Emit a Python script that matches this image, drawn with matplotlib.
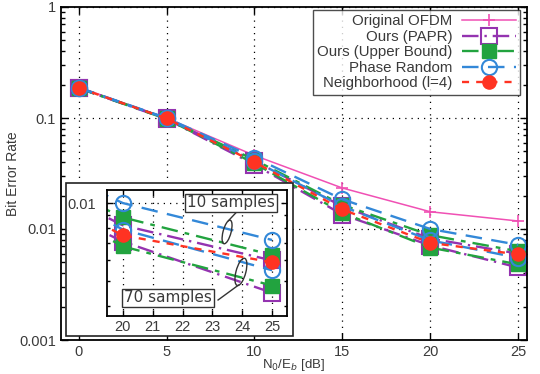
import matplotlib
matplotlib.use('Agg')
import matplotlib.pyplot as plt
from matplotlib.patches import Rectangle, Ellipse
from matplotlib.lines import Line2D
from matplotlib.ticker import FixedLocator, FixedFormatter, LogLocator, NullFormatter

plt.rcParams['font.family'] = ['Liberation Sans', 'DejaVu Sans']

# ---- data ----
snr = [0, 5, 10, 15, 20, 25]
ber_original = [0.190, 0.100, 0.046, 0.0234, 0.0143, 0.0118]
ber_papr_10 = [0.187, 0.099, 0.041, 0.0160, 0.0082, 0.0060]
ber_papr_70 = [0.186, 0.098, 0.038, 0.0135, 0.0071, 0.0045]
ber_ub_10 = [0.187, 0.099, 0.042, 0.0165, 0.0088, 0.0063]
ber_ub_70 = [0.186, 0.098, 0.039, 0.0140, 0.0068, 0.0048]
ber_pr_10 = [0.188, 0.100, 0.044, 0.0185, 0.0100, 0.0072]
ber_pr_70 = [0.187, 0.099, 0.041, 0.0160, 0.0079, 0.0055]
ber_nb = [0.187, 0.099, 0.040, 0.0150, 0.0075, 0.0059]

labels = ['Original OFDM', 'Ours (PAPR)', 'Ours (Upper Bound)', 'Phase Random', 'Neighborhood (l=4)']
main_yticks = [0.001, 0.01, 0.1, 1]
main_yticklabels = ['0.001', '0.01', '0.1', '1']
main_xticks = [0, 5, 10, 15, 20, 25]
inset_xticks = [20, 21, 22, 23, 24, 25]

# ---- styles ----
st_orig = dict(color='#f050b4', ls='-', lw=1.1, marker='+', ms=9, mew=1.2)
st_papr = dict(color='#9433b0', ls=(0, (7, 2.5, 1, 2.5)), lw=1.7, marker='s', ms=11,
               mfc='none', mew=1.5)
st_ub = dict(color='#22a33f', ls=(0, (7, 3, 2, 3)), lw=1.7, marker='s', ms=9.5, mew=1)
st_pr = dict(color='#3388d8', ls=(0, (7, 4)), lw=1.7, marker='o', ms=11, mfc='none', mew=1.5)
st_nb = dict(color='#ff3322', ls=(0, (3, 3)), lw=1.7, marker='o', ms=9.5, mew=1)

series = [
    (ber_original, st_orig, labels[0]),
    (ber_papr_10, st_papr, labels[1]),
    (ber_papr_70, st_papr, None),
    (ber_ub_10, st_ub, labels[2]),
    (ber_ub_70, st_ub, None),
    (ber_pr_10, st_pr, labels[3]),
    (ber_pr_70, st_pr, None),
    (ber_nb, st_nb, labels[4]),
]

W, H = 540, 374
fig = plt.figure(figsize=(W / 100, H / 100), dpi=100)
txtc = '#3a3a3a'

ax = fig.add_axes([61 / W, 34 / H, 466 / W, 333 / H])
handles = []
for ys, st, lab in series:
    ln, = ax.plot(snr, ys, **st)
    if lab:
        handles.append((ln, lab))

ax.set_yscale('log')
ax.set_ylim(0.001, 1)
ax.set_xlim(-1, 25.5)
ax.yaxis.set_major_locator(FixedLocator(main_yticks))
ax.yaxis.set_major_formatter(FixedFormatter(main_yticklabels))
ax.yaxis.set_minor_locator(LogLocator(base=10, subs=range(2, 10)))
ax.yaxis.set_minor_formatter(NullFormatter())
ax.set_xticks(main_xticks)
ax.tick_params(which='both', direction='in', top=True, right=True, labelsize=10.5,
               labelcolor=txtc, width=1)
ax.tick_params(which='major', length=5)
ax.tick_params(which='minor', length=3)
ax.grid(True, which='major', color='black', ls=(0, (1, 4)), lw=0.9)
for s in ax.spines.values():
    s.set_linewidth(1.3)
ax.set_ylabel('Bit Error Rate', fontsize=10, color=txtc)
ax.yaxis.set_label_coords(-0.088, 0.5)
ax.set_xlabel(r'N$_0$/E$_b$ [dB]', fontsize=9.5, color=txtc)
ax.xaxis.set_label_coords(0.5, -0.052)
ax.xaxis.label.set_va('top')

leg = ax.legend([h for h, _ in handles], [l for _, l in handles], loc='upper right',
                bbox_to_anchor=(0.985, 0.991), borderaxespad=0, markerfirst=False,
                frameon=True, fancybox=False, fontsize=10.8, handlelength=3.6,
                labelspacing=0.1, borderpad=0.3, handletextpad=0.6)
leg.get_frame().set_edgecolor('#222222')
leg.get_frame().set_linewidth(1.0)
for t in leg.get_texts():
    t.set_color(txtc)

# outer white box of the inset
fig.patches.append(Rectangle((66 / W, (H - 336) / H), (293 - 66) / W, (336 - 183) / H,
                             transform=fig.transFigure, facecolor='white',
                             edgecolor='#222222', lw=1.2, zorder=1))

axi = fig.add_axes([107 / W, 58 / H, 180 / W, 126 / H], zorder=3)
for ys, st, lab in series:
    axi.plot(snr, ys, **st)
axi.set_yscale('log')
axi.set_xlim(19.47, 25.5)
axi.set_ylim(0.00366, 0.01123)
axi.set_xticks(inset_xticks)
axi.yaxis.set_major_locator(FixedLocator([0.01]))
axi.yaxis.set_major_formatter(FixedFormatter(['0.01']))
axi.yaxis.set_minor_locator(LogLocator(base=10, subs=range(2, 10)))
axi.yaxis.set_minor_formatter(NullFormatter())
axi.tick_params(which='both', direction='in', top=True, right=True, labelsize=10.5,
                labelcolor=txtc, width=1, pad=3)
axi.tick_params(which='major', length=4)
axi.tick_params(which='minor', length=2.5)
axi.tick_params(axis='y', pad=8)
axi.grid(True, which='major', color='black', ls=(0, (1, 4)), lw=0.9)
for s in axi.spines.values():
    s.set_linewidth(1.3)

box = dict(boxstyle='square,pad=0.12', fc='white', ec='#333333', lw=1.0)
axi.text(0.689, 0.897, '10 samples', transform=axi.transAxes, ha='center', va='center',
         family='DejaVu Sans', fontsize=11, color=txtc, bbox=box, zorder=10)
axi.text(0.339, 0.143, '70 samples', transform=axi.transAxes, ha='center', va='center',
         family='DejaVu Sans', fontsize=11, color=txtc, bbox=box, zorder=10)
axi.add_patch(Ellipse((0.667, 0.667), 0.045, 0.19, angle=-10, transform=axi.transAxes,
                      fill=False, ec='#333333', lw=1.0, zorder=9))
axi.add_patch(Ellipse((0.744, 0.35), 0.055, 0.22, angle=-10, transform=axi.transAxes,
                      fill=False, ec='#333333', lw=1.0, zorder=9))
axi.add_line(Line2D([0.72, 0.675], [0.825, 0.757], transform=axi.transAxes,
                    color='#333333', lw=1.0, zorder=9))
axi.add_line(Line2D([0.617, 0.73], [0.127, 0.245], transform=axi.transAxes,
                    color='#333333', lw=1.0, zorder=9))

fig.savefig('out.png', dpi=100)
